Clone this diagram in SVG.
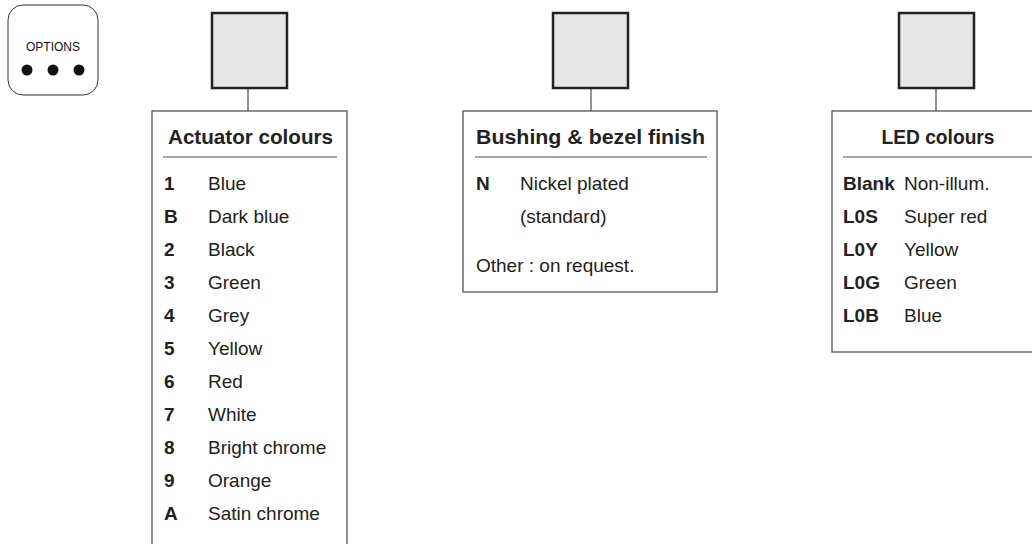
<svg xmlns="http://www.w3.org/2000/svg" width="1032" height="544" viewBox="0 0 1032 544">
<style>
.sq{fill:#e6e6e6;stroke:#222;stroke-width:2.5}
.box{fill:#fff;stroke:#555;stroke-width:1.3}
.sep{stroke:#888;stroke-width:1.6}
.con{stroke:#777;stroke-width:1.6}
.t{font-family:"Liberation Sans",Arial,sans-serif;font-weight:bold;font-size:21px;fill:#222}
.c{font-family:"Liberation Sans",Arial,sans-serif;font-weight:bold;font-size:19px;fill:#222}
.l{font-family:"Liberation Sans",Arial,sans-serif;font-size:19px;fill:#222}
</style>
<rect width="1032" height="544" fill="#fff"/>
<g id="options">
<rect x="8" y="5" width="90" height="90" rx="15" fill="#fff" stroke="#333" stroke-width="1"/>
<text x="53" y="51" text-anchor="middle" font-family="Liberation Sans,Arial,sans-serif" font-size="12" fill="#111">OPTIONS</text>
<circle cx="27" cy="70" r="5.5" fill="#111"/>
<circle cx="53" cy="70" r="5.5" fill="#111"/>
<circle cx="79" cy="70" r="5.5" fill="#111"/>
</g>
<g id="connectors">
<line class="con" x1="248" y1="88" x2="248" y2="111"/>
<line class="con" x1="591" y1="88" x2="591" y2="111"/>
<line class="con" x1="936" y1="88" x2="936" y2="111"/>
</g>
<g id="actuator">
<rect class="sq" x="212" y="13" width="75" height="75"/>
<rect class="box" x="152" y="111" width="195" height="440"/>
<text class="t" x="168" y="144" textLength="165" lengthAdjust="spacingAndGlyphs">Actuator colours</text>
<line class="sep" x1="163" y1="157" x2="337" y2="157"/>
<text class="c" x="164" y="190">1</text><text class="l" x="208" y="190">Blue</text>
<text class="c" x="164" y="223">B</text><text class="l" x="208" y="223">Dark blue</text>
<text class="c" x="164" y="256">2</text><text class="l" x="208" y="256">Black</text>
<text class="c" x="164" y="289">3</text><text class="l" x="208" y="289">Green</text>
<text class="c" x="164" y="322">4</text><text class="l" x="208" y="322">Grey</text>
<text class="c" x="164" y="355">5</text><text class="l" x="208" y="355">Yellow</text>
<text class="c" x="164" y="388">6</text><text class="l" x="208" y="388">Red</text>
<text class="c" x="164" y="421">7</text><text class="l" x="208" y="421">White</text>
<text class="c" x="164" y="454">8</text><text class="l" x="208" y="454">Bright chrome</text>
<text class="c" x="164" y="487">9</text><text class="l" x="208" y="487">Orange</text>
<text class="c" x="164" y="520">A</text><text class="l" x="208" y="520">Satin chrome</text>
</g>
<g id="bushing">
<rect class="sq" x="553" y="13" width="75" height="75"/>
<rect class="box" x="463" y="111" width="254" height="181"/>
<text class="t" x="476" y="144" textLength="229" lengthAdjust="spacingAndGlyphs">Bushing &amp; bezel finish</text>
<line class="sep" x1="475" y1="157" x2="707" y2="157"/>
<text class="c" x="476" y="190">N</text><text class="l" x="520" y="190">Nickel plated</text>
<text class="l" x="520" y="223">(standard)</text>
<text class="l" x="476" y="272">Other : on request.</text>
</g>
<g id="led">
<rect class="sq" x="899" y="13" width="75" height="75"/>
<rect class="box" x="832" y="111" width="210" height="241"/>
<text class="t" x="938" y="144" text-anchor="middle" textLength="113" lengthAdjust="spacingAndGlyphs">LED colours</text>
<line class="sep" x1="843" y1="157" x2="1032" y2="157"/>
<text class="c" x="843" y="190">Blank</text><text class="l" x="904" y="190">Non-illum.</text>
<text class="c" x="843" y="223">L0S</text><text class="l" x="904" y="223">Super red</text>
<text class="c" x="843" y="256">L0Y</text><text class="l" x="904" y="256">Yellow</text>
<text class="c" x="843" y="289">L0G</text><text class="l" x="904" y="289">Green</text>
<text class="c" x="843" y="322">L0B</text><text class="l" x="904" y="322">Blue</text>
</g>
</svg>
